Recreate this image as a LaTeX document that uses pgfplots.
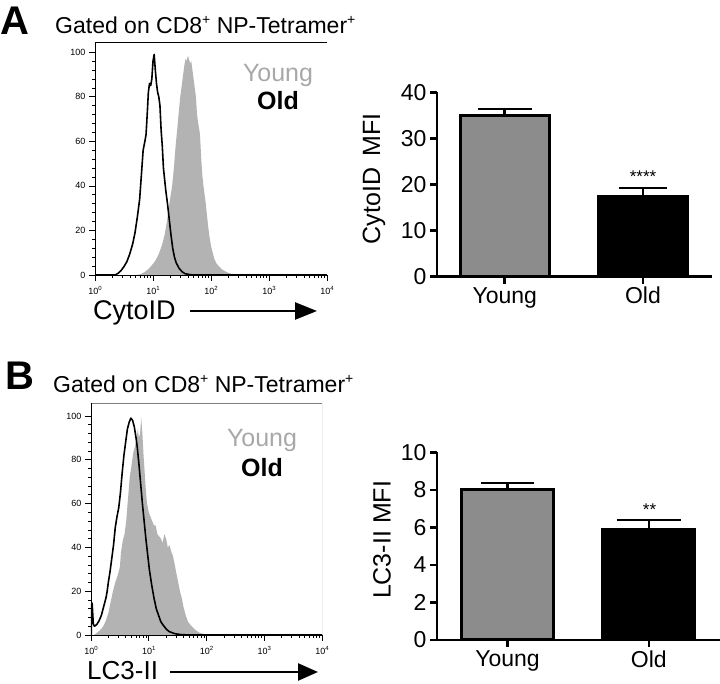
\documentclass[border=0pt]{standalone}
\usepackage{pgfplots}
\pgfplotsset{compat=1.18}
\usepackage{fontspec}
\setmainfont{Liberation Sans}
\usetikzlibrary{arrows.meta}
\definecolor{histgray}{HTML}{B3B3B3}
\definecolor{younggray}{HTML}{A8A8A8}
\definecolor{bargray}{HTML}{8C8C8C}
\newcommand\fs[1]{\fontsize{#1}{#1}\selectfont}
\newcommand\supx[1]{\raisebox{0.45em}{\fs{6}#1}}
\pgfplotsset{
 histax/.style={
  scale only axis, anchor=south west, axis on top,
  axis lines=left, axis line style={-, line width=0.8pt},
  xmin=0, xmax=4, ymin=0,
  xtick={0,1,2,3,4},
  xticklabels={10\supx{0},10\supx{1},10\supx{2},10\supx{3},10\supx{4}},
  minor xtick={0.301,0.477,0.602,0.699,0.778,0.845,0.903,0.954,1.301,1.477,1.602,1.699,1.778,1.845,1.903,1.954,2.301,2.477,2.602,2.699,2.778,2.845,2.903,2.954,3.301,3.477,3.602,3.699,3.778,3.845,3.903,3.954},
  ytick={0,20,40,60,80,100}, minor y tick num=4,
  tick align=outside, major tick length=6pt, minor tick length=3pt,
  tick style={line width=0.6pt, black},
  ticklabel style={font=\fs{9}},
  xticklabel style={yshift=-2pt},
  /pgf/number format/assume math mode=true,
 },
 barax/.style={
  scale only axis, anchor=south west, axis on top,
  axis x line=bottom, axis y line=left,
  axis line style={-, line width=2.5pt},
  xtick={0,1}, xticklabels={Young,Old},
  tick align=outside, major tick length=7pt,
  tick style={line width=2.5pt, black},
  ticklabel style={font=\fs{23}},
  /pgf/number format/assume math mode=true,
  ymin=0,
  ylabel style={font=\fs{25}, anchor=center},
 },
 errb/.style={error bars/.cd, y dir=plus, y explicit, error mark=|,
  error bar style={line width=2.5pt, black},
  error mark options={line width=2.5pt, mark size=#1, black}},
}
\begin{document}
\begin{tikzpicture}[x=1pt,y=1pt]

% ---------- Panel A histogram
\node[anchor=base west, inner sep=0, font=\fs{40}\bfseries] at (0,649) {A};
\node[anchor=base west, inner sep=0, font=\fs{23}] at (55,650) {Gated on CD8\raisebox{0.42em}{\fs{14}+} NP-Tetramer\raisebox{0.42em}{\fs{14}+}};
\begin{axis}[histax, at={(95pt,409pt)}, width=232pt, height=233pt, ymax=104.6]
\addplot[fill=histgray, draw=none] coordinates {
(0.70,0) (0.78,0.3) (0.85,1.2) (0.90,2.2) (0.95,3.5) (1.00,5.0) (1.05,6.8) (1.10,9.5)
(1.15,13) (1.20,18) (1.24,24) (1.27,30) (1.30,35) (1.33,40) (1.36,48) (1.39,58)
(1.42,66) (1.44,72) (1.47,80) (1.50,86) (1.52,90) (1.54,94) (1.56,97) (1.58,96)
(1.60,98.5) (1.62,97) (1.64,95) (1.66,96) (1.68,92) (1.70,88) (1.72,84) (1.74,80)
(1.76,72) (1.78,68) (1.80,65) (1.81,63) (1.83,53) (1.85,45) (1.87,40) (1.89,36)
(1.91,32) (1.93,27) (1.95,22) (1.97,18) (2.00,13) (2.03,10) (2.06,7) (2.10,5)
(2.15,3.5) (2.20,2.3) (2.28,1.2) (2.35,0.5) (2.50,0.1) (2.70,0) (4,0)
} \closedcycle;
\addplot[black, line width=1.6pt, line join=round] coordinates {
(0,0) (0.35,0) (0.40,0.8) (0.45,2.0) (0.50,3.8) (0.55,6) (0.60,9.5) (0.65,14)
(0.69,19) (0.73,26) (0.77,34) (0.80,45) (0.83,56) (0.86,60) (0.88,63) (0.90,72)
(0.92,82) (0.94,86) (0.96,85) (0.98,88) (1.00,96) (1.02,99) (1.04,92) (1.06,86)
(1.08,82) (1.10,80) (1.12,76) (1.14,65) (1.16,58) (1.18,48) (1.20,43) (1.22,38)
(1.25,32) (1.28,25) (1.31,18) (1.34,12) (1.37,8) (1.40,5.5) (1.45,3) (1.50,1.5)
(1.55,0.6) (1.65,0.1) (1.80,0) (4,0)
};
\draw[black, line width=0.8pt] (rel axis cs:0,1) -- (rel axis cs:1,1);
\draw[gray, line width=0.8pt] (rel axis cs:1,1) -- (rel axis cs:1,0);
\end{axis}
\node[anchor=base, inner sep=0, font=\fs{25}, text=younggray] at (278,602) {Young};
\node[anchor=base, inner sep=0, font=\fs{25}\bfseries] at (278,574) {Old};
\node[anchor=base west, inner sep=0, font=\fs{27}] at (93,364) {CytoID};
\draw[line width=2.5pt, -{Triangle[length=22pt, width=17pt]}] (190,373) -- (317,373);

% ---------- Panel A bars
\begin{axis}[barax, at={(437pt,407.3pt)}, width=275pt, height=184.4pt,
  xmin=-0.49, xmax=1.5, ymax=40, ytick={0,10,20,30,40}, clip=false,
  ylabel={CytoID\hspace{0.45em}MFI},
  ylabel style={at={(axis description cs:-0.229,0.53)}}]
\addplot[ybar, bar width=89pt, bar shift=0pt, fill=bargray, draw=black, line width=3pt, errb=27pt]
  coordinates {(0,35.0) +- (0,1.4)};
\addplot[ybar, bar width=89pt, bar shift=0pt, fill=black, draw=black, line width=3pt, errb=24pt]
  coordinates {(1,17.4) +- (0,1.8)};
\end{axis}
\node[inner sep=0, font=\fs{17}] at (643,507.4) {****};

% ---------- Panel B histogram
\node[anchor=base west, inner sep=0, font=\fs{40}\bfseries] at (5,294) {B};
\node[anchor=base west, inner sep=0, font=\fs{23}] at (53,291) {Gated on CD8\raisebox{0.42em}{\fs{14}+} NP-Tetramer\raisebox{0.42em}{\fs{14}+}};
\begin{axis}[histax, at={(91pt,49pt)}, width=231pt, height=232pt, ymax=105.9]
\addplot[fill=histgray, draw=none] coordinates {
(0.05,0) (0.10,1) (0.15,2) (0.20,3.5) (0.25,6) (0.30,10) (0.34,15) (0.38,20)
(0.42,24) (0.46,27) (0.50,31) (0.52,38) (0.55,43) (0.58,46) (0.61,52) (0.64,62)
(0.67,72) (0.70,77) (0.73,83) (0.76,86) (0.79,90) (0.81,94) (0.83,90) (0.85,92)
(0.87,99) (0.89,92) (0.91,82) (0.93,74) (0.95,66) (0.97,60) (1.00,56) (1.03,54)
(1.06,52) (1.09,50) (1.12,50) (1.15,46) (1.18,45) (1.21,44) (1.24,42) (1.27,46)
(1.30,44) (1.33,40) (1.36,41) (1.39,38) (1.42,36) (1.45,32) (1.48,28) (1.51,24)
(1.54,20) (1.57,17) (1.60,13) (1.64,9) (1.68,6) (1.74,4) (1.80,2.5) (1.88,1)
(1.98,0.3) (2.05,0) (4,0)
} \closedcycle;
\addplot[black, line width=1.6pt, line join=round] coordinates {
(0,0) (0.005,0) (0.01,14) (0.02,14.5) (0.04,5) (0.06,4) (0.10,4.8) (0.14,6.5)
(0.18,9) (0.22,13) (0.26,17) (0.28,20) (0.30,24) (0.33,29) (0.36,35) (0.39,41)
(0.42,49) (0.45,54) (0.48,58) (0.51,65) (0.54,74) (0.57,82) (0.60,88) (0.63,94)
(0.66,97) (0.69,99) (0.72,98) (0.75,95) (0.78,90) (0.80,86) (0.83,78) (0.86,69)
(0.89,60) (0.92,52) (0.95,44) (0.98,37) (1.01,30) (1.05,23) (1.09,17) (1.13,12)
(1.17,9) (1.21,6) (1.25,4.5) (1.30,2.8) (1.35,1.6) (1.45,0.6) (1.55,0.2) (1.70,0) (4,0)
};
\draw[gray, line width=0.8pt] (rel axis cs:0,1) -- (rel axis cs:1,1) -- (rel axis cs:1,0);
\end{axis}
\node[anchor=base, inner sep=0, font=\fs{25}, text=younggray] at (262,237) {Young};
\node[anchor=base, inner sep=0, font=\fs{25}\bfseries] at (262,207) {Old};
\node[anchor=base west, inner sep=0, font=\fs{26}] at (87,4) {LC3-II};
\draw[line width=2.5pt, -{Triangle[length=20pt, width=17pt]}] (170,12) -- (318,12);

% ---------- Panel B bars
\begin{axis}[barax, at={(437pt,44pt)}, width=283pt, height=187.7pt,
  xmin=-0.499, xmax=1.504, ymax=10, ytick={0,2,4,6,8,10}, clip=false,
  ylabel={LC3-II MFI},
  ylabel style={at={(axis description cs:-0.194,0.533)}}]
\addplot[ybar, bar width=92pt, bar shift=0pt, fill=bargray, draw=black, line width=3pt, errb=26.5pt]
  coordinates {(0,8.0) +- (0,0.36)};
\addplot[ybar, bar width=92pt, bar shift=0pt, fill=black, draw=black, line width=3pt, errb=32pt]
  coordinates {(1,5.87) +- (0,0.51)};
\end{axis}
\node[inner sep=0, font=\fs{17}] at (649.5,174) {**};
\pgfresetboundingbox
\path[use as bounding box] (0,0) rectangle (720,684);
\end{tikzpicture}
\end{document}
